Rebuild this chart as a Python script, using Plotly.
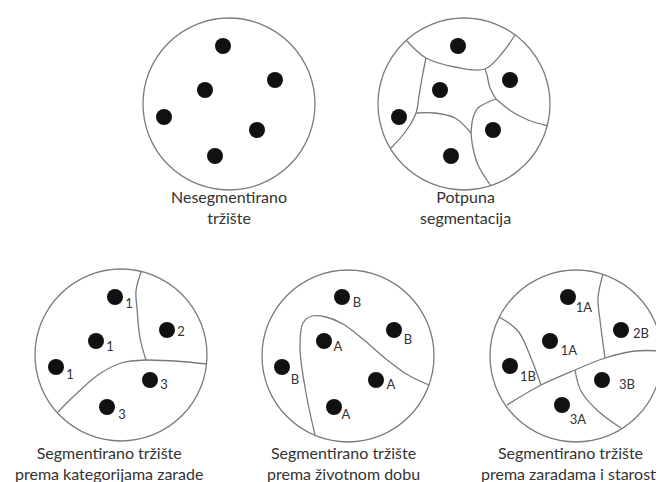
import plotly.graph_objects as go

# ---- data ----
circle_cx = [221, 456, 113, 340, 568]
circle_cy = [96, 96, 347, 348, 348]
circle_r = [86, 86, 86, 86, 86]

# dots (market members) per panel
dots_x = [
    [215, 267, 197, 156, 249, 207],
    [450, 502, 432, 391, 485, 443],
    [107, 88, 48, 159, 142, 99],
    [334, 386, 316, 274, 368, 326],
    [560, 613, 542, 502, 594, 554],
]
dots_y = [
    [38, 72, 82, 109, 122, 148],
    [38, 72, 82, 109, 122, 148],
    [289, 333, 359, 322, 372, 399],
    [289, 322, 333, 359, 372, 399],
    [289, 322, 333, 358, 372, 397],
]
dot_labels = [
    ["", "", "", "", "", ""],
    ["", "", "", "", "", ""],
    ["1", "1", "1", "2", "3", "3"],
    ["B", "B", "A", "B", "A", "A"],
    ["1A", "2B", "1A", "1B", "3B", "3A"],
]
label_x = [
    [], [],
    [121, 102, 62, 173, 156, 114],
    [349, 400, 330, 287, 383, 338],
    [576, 633, 561, 520, 619, 570],
]
label_y = [
    [], [],
    [297, 340, 368, 325, 378, 408],
    [296, 333, 340, 373, 378, 408],
    [301, 327, 344, 370, 378, 413],
]

# segment boundaries (polylines)
boundaries = [
    # panel 2: complete segmentation
    ([399, 418, 447, 477, 495, 507], [33, 50, 59, 61, 44, 27]),
    ([418, 414, 411, 408, 398, 383], [50, 70, 88, 105, 123, 140]),
    ([408, 427, 447, 463], [105, 105, 110, 125]),
    ([463, 465, 470, 483], [125, 140, 157, 178]),
    ([477, 479, 482, 488], [61, 67, 80, 91]),
    ([488, 503, 520, 540], [91, 103, 112, 118]),
    ([488, 470, 465, 463], [91, 100, 110, 125]),
    # panel 3
    ([133, 128, 129, 132, 138], [264, 283, 300, 330, 352]),
    ([138, 167, 199], [352, 353, 356]),
    ([138, 113, 90, 67, 50], [352, 355, 367, 387, 404]),
    # panel 4 (teardrop)
    ([307, 298, 292, 295, 304, 318, 335, 356, 378, 400, 421],
     [427, 385, 340, 315, 308, 309, 316, 332, 351, 367, 377]),
    # panel 5
    ([595, 590, 592, 597], [266, 290, 312, 350]),
    ([499, 533, 567, 597, 627, 653], [397, 377, 362, 350, 343, 343]),
    ([491, 510, 523, 533], [309, 323, 350, 377]),
    ([567, 573, 590, 613], [362, 383, 403, 420]),
]

captions = [
    "Nesegmentirano<br>tržište",
    "Potpuna<br>segmentacija",
    "Segmentirano tržište<br>prema kategorijama zarade",
    "Segmentirano tržište<br>prema životnom dobu",
    "Segmentirano tržište<br>prema zaradama i starosti",
]
caption_x = [221, 457, 101, 335, 562]
caption_y = [199, 199, 455, 455, 455]

# ---- figure ----
W, H = 664, 482
LINE = "#7a7a7a"
FONT = "Lato"

fig = go.Figure()

for bx, by in boundaries:
    fig.add_trace(go.Scatter(x=bx, y=by, mode="lines",
                             line=dict(color=LINE, width=1.3, shape="spline", smoothing=1.0),
                             hoverinfo="skip", showlegend=False))

for i in range(len(dots_x)):
    fig.add_trace(go.Scatter(x=dots_x[i], y=dots_y[i], mode="markers",
                             marker=dict(size=16, color="#111111", line=dict(width=0)),
                             hoverinfo="skip", showlegend=False))
    if label_x[i]:
        fig.add_trace(go.Scatter(x=label_x[i], y=label_y[i], mode="text",
                                 text=dot_labels[i],
                                 textfont=dict(family=FONT, size=13, color="#333333"),
                                 hoverinfo="skip", showlegend=False))

shapes = []
for cx, cy, r in zip(circle_cx, circle_cy, circle_r):
    shapes.append(dict(type="circle", xref="x", yref="y",
                       x0=cx - r, x1=cx + r, y0=cy - r, y1=cy + r,
                       line=dict(color=LINE, width=1.3)))

annotations = []
for t, x, y in zip(captions, caption_x, caption_y):
    annotations.append(dict(text=t, x=x, y=y, xref="x", yref="y", showarrow=False,
                            align="center", font=dict(family=FONT, size=16, color="#333333")))

fig.update_layout(
    width=W, height=H,
    margin=dict(l=0, r=0, t=0, b=0),
    paper_bgcolor="white", plot_bgcolor="white",
    xaxis=dict(range=[0, W], visible=False, fixedrange=True),
    yaxis=dict(range=[H, 0], visible=False, fixedrange=True),
    shapes=shapes, annotations=annotations,
)

fig.write_html("out.html")
